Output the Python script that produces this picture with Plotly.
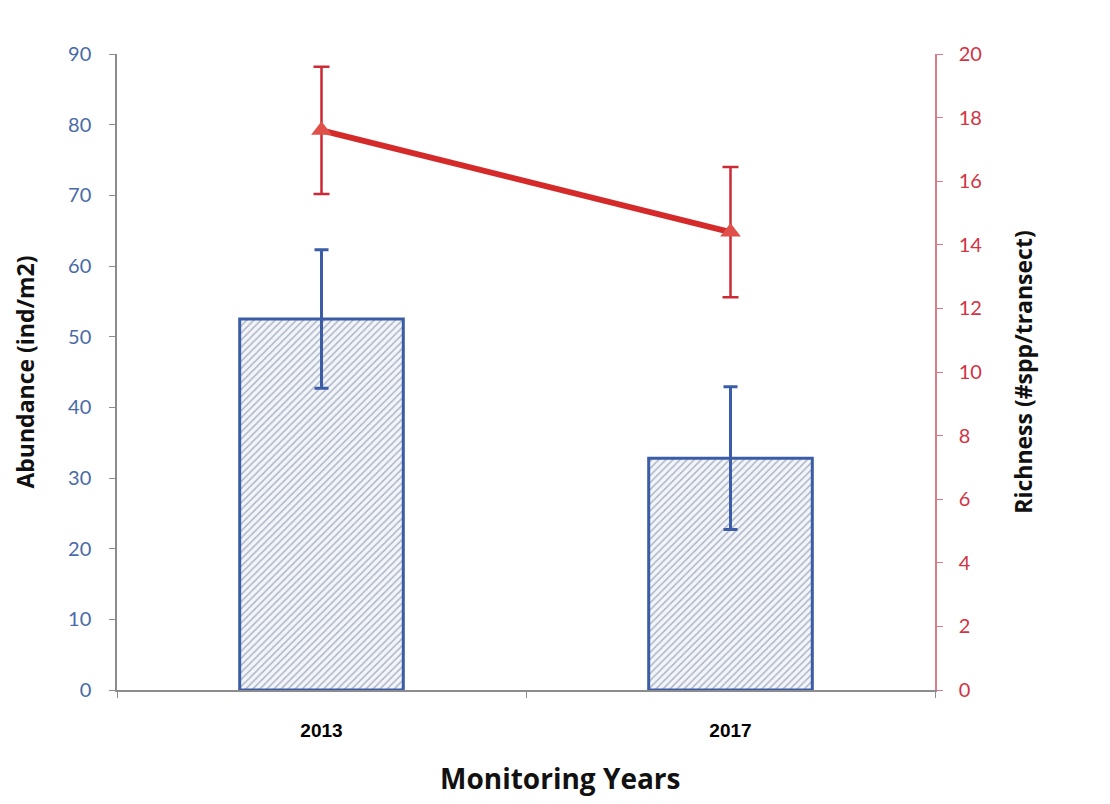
import plotly.graph_objects as go

# data
years = ["2013", "2017"]
abundance = [52.5, 32.8]
abundance_err = [9.8, 10.1]
richness = [17.6, 14.4]
richness_err = [2.0, 2.05]

blue = "#3b5ca6"
red = "#d42a2a"

fig = go.Figure()

# abundance bars (left axis)
fig.add_trace(go.Bar(
    x=years, y=abundance,
    width=0.4,
    marker=dict(
        color="white",
        line=dict(color=blue, width=3),
        pattern=dict(shape="/", fgcolor="#6c7690", bgcolor="#f2f5fa", size=5, solidity=0.3),
    ),
    error_y=dict(type="data", array=abundance_err, color=blue, thickness=3, width=7),
    name="Abundance",
    yaxis="y",
))

# richness line (right axis)
fig.add_trace(go.Scatter(
    x=years, y=richness,
    mode="lines+markers",
    line=dict(color=red, width=6),
    marker=dict(symbol="triangle-up", size=18, color="#e0504a"),
    error_y=dict(type="data", array=richness_err, color="#cc2a35", thickness=2.5, width=8),
    name="Richness",
    yaxis="y2",
))

fig.update_layout(
    width=1110, height=804,
    plot_bgcolor="white", paper_bgcolor="white",
    showlegend=False,
    # page body adds 8px offset, so margins are shifted
    margin=dict(l=109, r=183, t=46, b=122),
    font=dict(family="Lato, Open Sans, sans-serif"),
    xaxis=dict(
        type="category",
        showline=True, linecolor="#8c8c8c", linewidth=1.5,
        ticks="outside", ticklen=6, tickcolor="#8c8c8c", tickson="boundaries",
        ticklabelstandoff=22,
        tickfont=dict(family="Liberation Sans, Arial", size=19, color="black", weight="bold"),
        showgrid=False,
    ),
    yaxis=dict(
        range=[0, 90], dtick=10,
        showline=True, linecolor="#8c8c8c", linewidth=1.5,
        ticks="outside", ticklen=6, tickcolor="#8c8c8c",
        ticklabelstandoff=14,
        tickfont=dict(size=20, color="#4a6aa8"),
        title=dict(text="<b>Abundance (ind/m2)</b>",
                   font=dict(family="Open Sans", size=23, color="#111"), standoff=27),
        showgrid=False, zeroline=False,
    ),
    yaxis2=dict(
        range=[0, 20], dtick=2,
        overlaying="y", side="right",
        showline=True, linecolor="#e07a88", linewidth=1.5,
        ticks="outside", ticklen=6, tickcolor="#e07a88",
        ticklabelstandoff=12,
        tickfont=dict(size=20, color="#d23444"),
        title=dict(text="<b>Richness (#spp/transect)</b>",
                   font=dict(family="Open Sans", size=23, color="#111"), standoff=35),
        showgrid=False, zeroline=False,
    ),
)

# x title sits a bit right of centre in the original
fig.add_annotation(
    text="<b>Monitoring Years</b>",
    xref="paper", yref="paper", x=0.5416, y=0,
    xanchor="center", yanchor="middle", yshift=-88,
    showarrow=False,
    font=dict(family="Open Sans", size=28, color="#111"),
)

fig.write_html("out.html")
